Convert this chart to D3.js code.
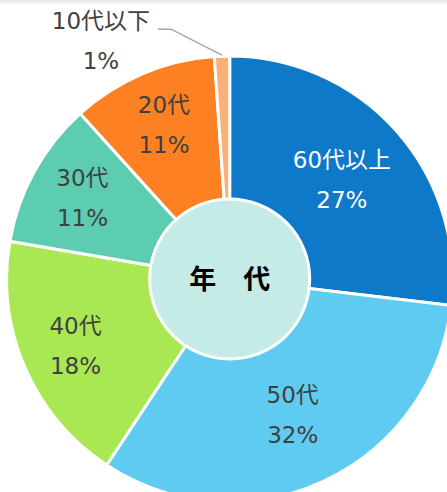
<!DOCTYPE html>
<html lang="ja">
<head>
<meta charset="UTF-8">
<title>年代</title>
<script src="https://cdn.jsdelivr.net/npm/d3@7"></script>
<style>
  html, body { margin: 0; padding: 0; background: #fff; }
  svg { display: block; }
</style>
</head>
<body>
<script>
// values (labels show them rounded)
const categories = ['60代以上', '50代', '40代', '30代', '20代', '10代以下'];
const values = [26.9, 32.4, 18.4, 10.6, 10.6, 1.1];
const colors = ['#0e78c9', '#5fcbf1', '#a9e852', '#5ccdb0', '#fd8023', '#fbb07b'];
const textColors = ['#ffffff', '#404040', '#404040', '#404040', '#404040', '#404040'];
const centerLabel = '年\u3000代';

const width = 447;
const height = 492;
const cx = 229.7;
const cy = 279;
const outerR = 223;
const innerR = 80;

const svg = d3.select('body')
  .append('svg')
  .attr('width', width)
  .attr('height', height);

// faint shadow along the top edge
let grad = svg.append('defs')
  .append('linearGradient')
  .attr('id', 'top-shade')
  .attr('x1', 0).attr('y1', 0).attr('x2', 0).attr('y2', 1);
grad.append('stop').attr('offset', '0%').attr('stop-color', '#e6e6e6');
grad.append('stop').attr('offset', '100%').attr('stop-color', '#ffffff');
svg.append('rect')
  .attr('width', width)
  .attr('height', 5)
  .attr('fill', 'url(#top-shade)');

const total = d3.sum(values);
const pct = d3.format('.0%');

const pie = d3.pie().sort(null).value(function (d) { return d; });
const arcs = pie(values);

const arc = d3.arc().innerRadius(0).outerRadius(outerR);

const g = svg.append('g')
  .attr('transform', 'translate(' + cx + ',' + cy + ')');

g.selectAll('path.slice')
  .data(arcs)
  .enter()
  .append('path')
  .attr('class', 'slice')
  .attr('d', arc)
  .attr('fill', function (d, i) { return colors[i]; })
  .attr('stroke', '#fff')
  .attr('stroke-width', 3)
  .attr('stroke-linejoin', 'round');

// centre disc
g.append('circle')
  .attr('r', innerR)
  .attr('fill', '#c4ebe5')
  .attr('stroke', '#fff')
  .attr('stroke-width', 3);

g.append('text')
  .attr('x', 0)
  .attr('y', 0)
  .attr('dy', '0.36em')
  .attr('text-anchor', 'middle')
  .attr('font-family', '"Noto Sans CJK JP", sans-serif')
  .attr('font-weight', 'bold')
  .attr('font-size', 27)
  .attr('fill', '#000')
  .text(centerLabel);

const fontFamily = '"DejaVu Sans", "Noto Sans CJK JP", sans-serif';
const fontSize = 23;
const lineGap = 40;

function labelRadius(d) {
  return (d.endAngle - d.startAngle) > 1.5 ? 150 : 168;
}

// inside labels (all but the tiny last slice)
let inside = arcs.slice(0, arcs.length - 1);
let labels = g.selectAll('g.label')
  .data(inside)
  .enter()
  .append('g')
  .attr('class', 'label')
  .attr('transform', function (d) {
    let r = labelRadius(d);
    let c = d3.arc().innerRadius(r).outerRadius(r).centroid(d);
    return 'translate(' + c[0] + ',' + c[1] + ')';
  });

labels.append('text')
  .attr('y', -lineGap / 2)
  .attr('dy', '0.36em')
  .attr('text-anchor', 'middle')
  .attr('font-family', fontFamily)
  .attr('font-size', fontSize)
  .attr('fill', function (d) { return textColors[d.index]; })
  .text(function (d) { return categories[d.index]; });

labels.append('text')
  .attr('y', lineGap / 2)
  .attr('dy', '0.36em')
  .attr('text-anchor', 'middle')
  .attr('font-family', fontFamily)
  .attr('font-size', fontSize)
  .attr('fill', function (d) { return textColors[d.index]; })
  .text(function (d) { return pct(d.value / total); });

// outside label with leader line for the smallest slice
let last = arcs[arcs.length - 1];
let p0 = d3.arc().innerRadius(outerR + 1).outerRadius(outerR + 1).centroid(last);
let p1 = [p0[0] - 51, p0[1] - 26];
let p2 = [p1[0] - 13, p1[1]];

g.append('path')
  .attr('d', d3.line()([p0, p1, p2]))
  .attr('fill', 'none')
  .attr('stroke', '#a6a6a6')
  .attr('stroke-width', 1.5);

g.append('text')
  .attr('x', p2[0] - 57)
  .attr('y', p2[1] - 8)
  .attr('dy', '0.36em')
  .attr('text-anchor', 'middle')
  .attr('font-family', fontFamily)
  .attr('font-size', fontSize)
  .attr('fill', textColors[last.index])
  .text(categories[last.index]);

g.append('text')
  .attr('x', p2[0] - 57)
  .attr('y', p2[1] + 32)
  .attr('dy', '0.36em')
  .attr('text-anchor', 'middle')
  .attr('font-family', fontFamily)
  .attr('font-size', fontSize)
  .attr('fill', textColors[last.index])
  .text(pct(last.value / total));
</script>
</body>
</html>
